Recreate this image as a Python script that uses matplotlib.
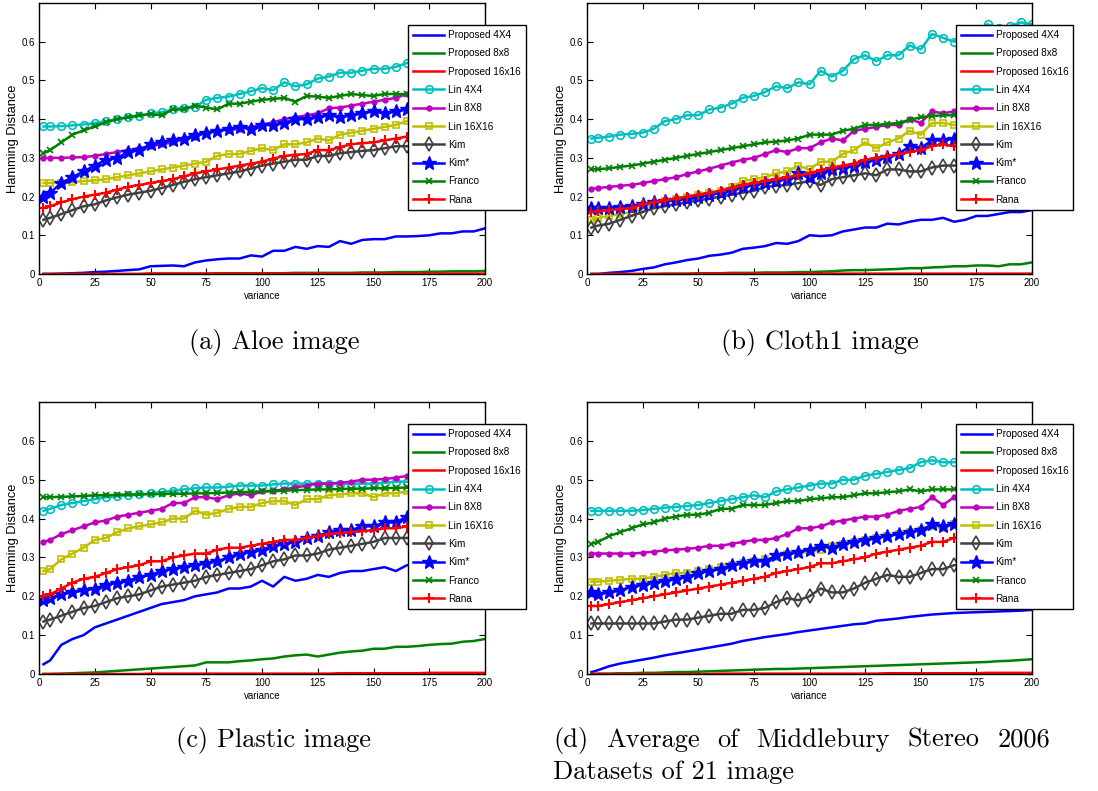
import matplotlib
matplotlib.use("Agg")
import matplotlib.pyplot as plt
import numpy as np

# variance values (x) shared by every panel
variance = [2] + list(range(5, 201, 5))

labels = ["Proposed 4X4", "Proposed 8x8", "Proposed 16x16", "Lin 4X4", "Lin 8X8",
          "Lin 16X16", "Kim", "Kim*", "Franco", "Rana"]

# (a) Aloe image
p4_a = [0, 0, .001, .002, .003, .005, .006, .008, .010, .012, .020, .021, .022, .020, .030, .035, .038, .040, .040, .048,
        .045, .060, .060, .070, .065, .072, .070, .085, .078, .088, .090, .090, .097, .097, .098, .100, .105, .105, .110, .110, .118]
p8_a = [0, 0, 0, 0, 0, 0, 0, 0, 0, 0, .001, .001, .001, .001, .001, .001, .002, .002, .002, .002,
        .002, .002, .002, .003, .003, .003, .003, .003, .003, .004, .004, .004, .005, .005, .005, .006, .006, .007, .007, .007, .008]
p16_a = [0, 0, 0, 0, 0, 0, 0, 0, 0, 0, .001, .001, .001, .001, .001, .001, .001, .001, .001, .001,
         .001, .001, .001, .001, .001, .001, .001, .001, .001, .001, .001, .001, .001, .001, .001, .001, .001, .001, .001, .001, .001]
lin4_a = [.381, .381, .382, .384, .386, .390, .395, .400, .405, .408, .415, .418, .425, .430, .432, .450, .455, .458, .465, .472,
          .480, .475, .495, .485, .490, .505, .510, .520, .520, .525, .530, .530, .535, .545, .550, .550, .555, .555, .560, .560, .565]
lin8_a = [.300, .300, .300, .301, .302, .305, .310, .315, .320, .325, .330, .335, .340, .348, .355, .365, .370, .372, .375, .380,
          .385, .392, .400, .405, .410, .415, .428, .430, .435, .440, .445, .450, .455, .465, .468, .470, .475, .478, .480, .485, .488]
lin16_a = [.235, .235, .235, .237, .240, .242, .245, .250, .255, .260, .265, .270, .275, .280, .285, .290, .305, .310, .310, .318,
           .325, .320, .335, .335, .340, .350, .345, .360, .365, .370, .375, .380, .385, .395, .395, .398, .400, .402, .405, .405, .408]
kim_a = [.140, .145, .155, .165, .175, .180, .190, .198, .205, .210, .215, .222, .230, .238, .245, .250, .255, .260, .265, .272,
         .280, .285, .290, .295, .295, .305, .305, .312, .315, .318, .320, .325, .330, .330, .335, .338, .340, .342, .345, .348, .350]
kims_a = [.200, .210, .235, .250, .265, .280, .295, .300, .315, .320, .335, .340, .345, .350, .360, .365, .370, .375, .380, .375,
          .385, .385, .390, .400, .400, .405, .410, .405, .410, .415, .420, .415, .420, .425, .428, .430, .430, .432, .435, .435, .438]
franco_a = [.312, .320, .340, .360, .371, .381, .392, .400, .405, .410, .413, .410, .425, .425, .435, .430, .425, .440, .440, .445,
            .450, .452, .455, .445, .460, .458, .455, .460, .465, .462, .460, .465, .465, .465, .468, .468, .470, .470, .472, .472, .475]
rana_a = [.170, .175, .185, .193, .200, .205, .210, .218, .225, .230, .235, .240, .245, .252, .260, .265, .270, .275, .280, .285,
          .290, .298, .305, .308, .310, .320, .320, .328, .335, .338, .340, .345, .350, .355, .358, .360, .362, .365, .368, .370, .372]

# (b) Cloth1 image
p4_b = [0, 0, .003, .005, .008, .013, .017, .025, .030, .036, .040, .047, .050, .055, .065, .068, .072, .080, .078, .085,
        .100, .098, .100, .110, .115, .120, .120, .130, .128, .135, .140, .140, .145, .135, .140, .150, .150, .155, .160, .160, .165]
p8_b = [0, 0, 0, 0, 0, 0, 0, .001, .001, .001, .002, .002, .002, .003, .003, .003, .004, .004, .004, .005,
        .005, .006, .007, .009, .010, .010, .011, .012, .013, .015, .015, .017, .018, .020, .020, .022, .022, .020, .025, .025, .030]
p16_b = [0, 0, 0, 0, 0, 0, 0, 0, 0, 0, .001, .001, .001, .001, .001, .001, .001, .001, .001, .001,
         .001, .001, .001, .001, .001, .001, .001, .001, .001, .001, .001, .001, .001, .001, .001, .001, .001, .001, .001, .001, .001]
lin4_b = [.350, .352, .355, .360, .362, .365, .375, .395, .400, .410, .410, .425, .430, .440, .455, .460, .470, .485, .480, .495,
          .490, .525, .510, .525, .555, .565, .550, .565, .565, .590, .580, .620, .610, .600, .620, .630, .645, .635, .640, .650, .645]
lin8_b = [.220, .222, .225, .228, .230, .235, .240, .245, .250, .258, .265, .272, .280, .288, .295, .300, .310, .320, .315, .325,
          .325, .340, .350, .345, .370, .375, .380, .385, .385, .400, .390, .420, .415, .420, .425, .430, .432, .435, .438, .440, .442]
lin16_b = [.140, .145, .150, .155, .160, .170, .180, .188, .195, .200, .205, .210, .215, .225, .240, .245, .250, .260, .265, .280,
           .270, .290, .290, .310, .320, .340, .325, .340, .350, .370, .360, .390, .390, .385, .390, .392, .395, .395, .398, .400, .400]
kim_b = [.120, .125, .130, .140, .150, .160, .170, .175, .180, .185, .190, .195, .200, .205, .210, .215, .225, .228, .230, .235,
         .240, .230, .245, .250, .255, .260, .255, .270, .270, .265, .265, .275, .280, .280, .282, .285, .285, .288, .290, .290, .292]
kims_b = [.170, .170, .170, .172, .175, .180, .185, .188, .190, .195, .200, .205, .210, .218, .225, .230, .235, .240, .245, .260,
          .250, .262, .270, .275, .280, .290, .295, .302, .310, .330, .325, .345, .345, .350, .352, .355, .355, .358, .360, .362, .365]
franco_b = [.270, .271, .273, .277, .280, .285, .290, .295, .300, .305, .310, .315, .320, .325, .330, .335, .340, .342, .345, .350,
            .360, .360, .360, .370, .375, .385, .385, .388, .390, .398, .405, .408, .410, .410, .412, .415, .415, .418, .418, .420, .420]
rana_b = [.160, .162, .165, .168, .170, .180, .185, .190, .195, .200, .205, .210, .215, .222, .230, .235, .240, .245, .250, .255,
          .260, .268, .275, .280, .285, .295, .300, .305, .310, .315, .320, .330, .335, .330, .335, .338, .340, .342, .345, .348, .350]

# (c) Plastic image
p4_c = [.025, .035, .075, .090, .100, .120, .130, .140, .150, .160, .170, .180, .185, .190, .200, .205, .210, .220, .220, .225,
        .240, .225, .250, .240, .245, .255, .250, .260, .265, .265, .270, .275, .265, .280, .280, .285, .290, .290, .295, .290, .295]
p8_c = [0, 0, .001, .002, .003, .004, .006, .008, .010, .012, .014, .016, .018, .020, .022, .030, .030, .030, .033, .035,
        .038, .040, .045, .048, .050, .045, .050, .055, .058, .060, .065, .065, .070, .070, .072, .075, .077, .078, .083, .085, .090]
p16_c = [0, 0, 0, 0, 0, 0, 0, 0, 0, 0, .001, .001, .001, .001, .001, .001, .001, .001, .001, .001,
         .001, .001, .001, .001, .001, .001, .001, .002, .002, .002, .002, .002, .002, .002, .002, .003, .003, .003, .003, .003, .003]
lin4_c = [.420, .425, .435, .440, .445, .450, .455, .458, .460, .462, .465, .468, .472, .475, .478, .480, .480, .482, .485, .485,
          .485, .488, .490, .490, .490, .490, .490, .490, .490, .490, .490, .492, .495, .495, .496, .497, .498, .498, .499, .500, .500]
lin8_c = [.340, .345, .360, .370, .380, .390, .395, .405, .410, .415, .420, .425, .440, .440, .455, .455, .450, .460, .465, .460,
          .470, .472, .475, .480, .485, .490, .490, .492, .495, .500, .500, .502, .505, .510, .510, .512, .512, .514, .515, .516, .518]
lin16_c = [.265, .270, .295, .310, .325, .345, .350, .365, .375, .380, .385, .390, .400, .400, .420, .410, .415, .425, .430, .430,
           .440, .445, .445, .435, .450, .450, .460, .462, .465, .465, .455, .465, .465, .470, .470, .472, .472, .474, .475, .476, .478]
kim_c = [.135, .140, .150, .160, .170, .175, .185, .195, .200, .205, .215, .225, .230, .235, .240, .250, .255, .260, .265, .270,
         .280, .290, .295, .305, .305, .310, .320, .325, .330, .335, .340, .350, .350, .350, .355, .358, .360, .362, .365, .368, .370]
kims_c = [.190, .195, .205, .210, .215, .220, .230, .235, .240, .250, .255, .265, .270, .275, .280, .285, .290, .300, .310, .315,
          .320, .330, .335, .340, .350, .355, .365, .370, .370, .380, .380, .390, .390, .405, .408, .410, .412, .415, .418, .420, .425]
franco_c = [.455, .455, .456, .457, .458, .460, .460, .461, .462, .462, .463, .463, .464, .464, .465, .465, .466, .467, .468, .469,
            .470, .470, .472, .473, .474, .475, .475, .476, .477, .477, .478, .478, .479, .480, .480, .481, .482, .482, .483, .484, .485]
rana_c = [.200, .205, .220, .235, .245, .250, .260, .270, .275, .280, .290, .290, .300, .305, .310, .310, .320, .325, .325, .330,
          .335, .340, .345, .345, .350, .355, .360, .362, .365, .368, .370, .375, .375, .380, .380, .382, .383, .384, .385, .386, .388]

# (d) Average of Middlebury 2006
p4_d = [.005, .010, .020, .027, .032, .037, .042, .048, .053, .058, .063, .068, .073, .078, .085, .090, .095, .099, .103, .108,
        .112, .116, .120, .124, .128, .130, .137, .140, .143, .147, .150, .153, .155, .157, .158, .159, .160, .161, .162, .163, .165]
p8_d = [0, .001, .001, .002, .002, .003, .003, .004, .005, .005, .006, .007, .008, .009, .010, .011, .012, .013, .013, .014,
        .015, .016, .017, .018, .019, .020, .021, .022, .023, .024, .025, .026, .027, .028, .029, .030, .031, .033, .034, .036, .038]
p16_d = [0, 0, 0, 0, 0, 0, 0, 0, 0, 0, 0, 0, .001, .001, .001, .001, .001, .001, .001, .001,
         .001, .001, .001, .001, .001, .001, .001, .002, .002, .002, .002, .002, .002, .002, .002, .002, .003, .003, .003, .003, .003]
lin4_d = [.420, .420, .420, .420, .420, .422, .425, .428, .430, .432, .435, .440, .445, .450, .455, .460, .455, .470, .475, .480,
          .485, .490, .490, .500, .500, .510, .515, .520, .525, .530, .545, .550, .545, .545, .550, .555, .558, .560, .562, .565, .568]
lin8_d = [.310, .310, .310, .310, .310, .312, .315, .318, .320, .322, .325, .330, .330, .335, .340, .345, .345, .350, .360, .375,
          .375, .380, .390, .395, .400, .405, .405, .410, .420, .425, .430, .455, .435, .455, .458, .460, .462, .464, .466, .468, .470]
lin16_d = [.238, .238, .240, .242, .245, .245, .250, .255, .260, .260, .265, .270, .275, .280, .285, .290, .295, .300, .310, .310,
           .315, .320, .330, .335, .340, .345, .350, .355, .360, .365, .370, .380, .375, .385, .388, .390, .392, .394, .396, .398, .400]
kim_d = [.130, .130, .130, .130, .130, .130, .130, .135, .140, .140, .145, .150, .155, .155, .165, .165, .170, .185, .195, .190,
         .200, .220, .210, .210, .220, .235, .245, .255, .250, .250, .260, .270, .270, .280, .282, .285, .288, .290, .292, .295, .298]
kims_d = [.210, .205, .210, .215, .225, .230, .235, .240, .245, .250, .260, .265, .270, .280, .285, .290, .290, .305, .310, .315,
          .320, .330, .325, .335, .340, .345, .350, .355, .360, .365, .370, .385, .380, .385, .388, .390, .392, .393, .395, .396, .398]
franco_d = [.335, .340, .355, .365, .375, .385, .390, .400, .405, .410, .410, .415, .425, .425, .435, .435, .435, .440, .445, .445,
            .450, .452, .455, .455, .460, .465, .465, .468, .470, .475, .470, .475, .475, .475, .477, .478, .478, .479, .480, .480, .481]
rana_d = [.175, .175, .180, .185, .190, .195, .200, .205, .210, .215, .220, .225, .230, .235, .240, .245, .250, .260, .265, .270,
          .275, .285, .285, .290, .295, .300, .310, .315, .320, .325, .330, .340, .340, .350, .352, .355, .357, .360, .362, .364, .366]

panels = [
    [p4_a, p8_a, p16_a, lin4_a, lin8_a, lin16_a, kim_a, kims_a, franco_a, rana_a],
    [p4_b, p8_b, p16_b, lin4_b, lin8_b, lin16_b, kim_b, kims_b, franco_b, rana_b],
    [p4_c, p8_c, p16_c, lin4_c, lin8_c, lin16_c, kim_c, kims_c, franco_c, rana_c],
    [p4_d, p8_d, p16_d, lin4_d, lin8_d, lin16_d, kim_d, kims_d, franco_d, rana_d],
]

# MATLAB-ish colours and markers
styles = [
    dict(color=(0, 0, 1)),
    dict(color=(0, 0.5, 0)),
    dict(color=(1, 0, 0)),
    dict(color=(0, 0.75, 0.75), marker="o", mfc="none", ms=5.5, mew=1.2),
    dict(color=(0.75, 0, 0.75), marker="o", ms=3.5),
    dict(color=(0.75, 0.75, 0), marker="s", mfc="none", ms=5, mew=1.2),
    dict(color=(0.25, 0.25, 0.25), marker="d", mfc="none", ms=7.5, mew=1.2),
    dict(color=(0, 0, 1), marker="*", ms=10),
    dict(color=(0, 0.5, 0), marker="x", ms=4, mew=1.2),
    dict(color=(1, 0, 0), marker="+", ms=7, mew=1.5),
]

fig = plt.figure(figsize=(10.98, 7.91), dpi=100)
W, H = 1098, 791
# axes boxes in pixels: left, top, right, bottom
boxes = [(39, 3, 485, 274), (587, 3, 1032, 274), (39, 402, 485, 674), (587, 402, 1032, 674)]

for data, (l, t, r, b) in zip(panels, boxes):
    ax = fig.add_axes([l / W, 1 - b / H, (r - l) / W, (b - t) / H])
    for vals, lab, st in zip(data, labels, styles):
        assert len(vals) == len(variance)
        ax.plot(variance, vals, lw=1.8, label=lab, **st)
    ax.set_xlim(0, 200)
    ax.set_ylim(0, 0.7)
    ax.set_xticks(np.arange(0, 201, 25))
    ax.set_yticks(np.arange(0, 0.61, 0.1))
    ax.set_yticklabels(["0", "0.1", "0.2", "0.3", "0.4", "0.5", "0.6"])
    ax.tick_params(direction="in", top=True, right=True, length=4, width=0.8, pad=3)
    for lbl in ax.get_xticklabels() + ax.get_yticklabels():
        lbl.set_fontfamily("Liberation Sans")
        lbl.set_fontsize(7)
    ax.set_xlabel("variance", family="Liberation Sans", size=7, labelpad=2)
    ax.set_ylabel("Hamming Distance", family="Liberation Sans", size=9.3, labelpad=2)
    for sp in ax.spines.values():
        sp.set_linewidth(1.0)
    leg = ax.legend(loc="upper left", bbox_to_anchor=(0.817, 0.937), prop=dict(family="Liberation Sans", size=7.2),
                    frameon=True, fancybox=False, framealpha=1, edgecolor="black", handlelength=3.1,
                    labelspacing=0.83, borderpad=0.5, handletextpad=0.4)
    leg.get_frame().set_linewidth(1.0)

cap = dict(family="cmr10", size=19, va="center")
fig.text(274 / W, 1 - 342 / H, "(a) Aloe image", ha="center", **cap)
fig.text(820 / W, 1 - 342 / H, "(b) Cloth1 image", ha="center", **cap)
fig.text(274 / W, 1 - 740 / H, "(c) Plastic image", ha="center", **cap)

# (d) caption: first line justified between 553 and 1050 px
words = ["(d)", "Average", "of", "Middlebury", "Stereo", "2006"]
objs = [fig.text(0, 1 - 740 / H, w, ha="left", **cap) for w in words]
fig.canvas.draw()
rend = fig.canvas.get_renderer()
widths = [o.get_window_extent(rend).width for o in objs]
gap = (1050 - 553 - sum(widths)) / (len(words) - 1)
xp = 553
for o, wd in zip(objs, widths):
    o.set_x(xp / W)
    xp += wd + gap
fig.text(553 / W, 1 - 772 / H, "Datasets of 21 image", ha="left", **cap)

fig.savefig("out.png", dpi=100)
